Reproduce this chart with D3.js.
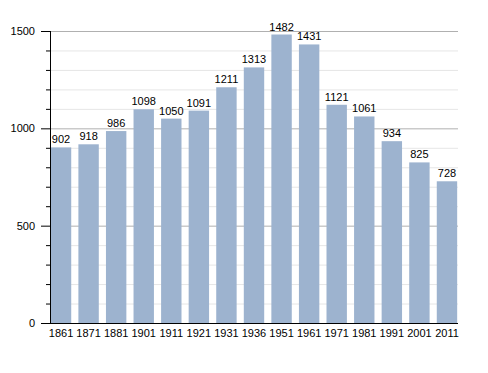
<!DOCTYPE html>
<html>
<head>
<meta charset="utf-8">
<script src="https://cdn.jsdelivr.net/npm/d3@7"></script>
<style>
  body { margin: 0; background: #fff; }
  text { font-family: "Liberation Sans", Arial, sans-serif; }
</style>
</head>
<body>
<svg id="chart" width="488" height="373"></svg>
<script>
// census years and population
const years = ["1861", "1871", "1881", "1901", "1911", "1921", "1931", "1936", "1951", "1961", "1971", "1981", "1991", "2001", "2011"];
const population = [902, 918, 986, 1098, 1050, 1091, 1211, 1313, 1482, 1431, 1121, 1061, 934, 825, 728];
const yTicks = [0, 500, 1000, 1500];

const margin = { top: 31, right: 30, bottom: 50, left: 50 };
const width = 488, height = 373;

const svg = d3.select("#chart");

const x = d3.scaleBand()
    .domain(years)
    .range([margin.left, width - margin.right])
    .paddingInner(0.26)
    .paddingOuter(0.03);

const y = d3.scaleLinear()
    .domain([0, 1500])
    .range([height - margin.bottom, margin.top]);

const minor = d3.range(100, 1501, 100).filter(v => v % 500 !== 0);

// minor grid lines every 100
svg.append("g")
    .selectAll("line")
    .data(minor)
    .join("line")
    .attr("x1", margin.left)
    .attr("x2", width - margin.right)
    .attr("y1", d => y(d) + 0.5)
    .attr("y2", d => y(d) + 0.5)
    .attr("stroke", "#e6e6e6");

// major grid lines
svg.append("g")
    .selectAll("line")
    .data(yTicks.slice(1))
    .join("line")
    .attr("x1", margin.left)
    .attr("x2", width - margin.right)
    .attr("y1", d => y(d) + 0.5)
    .attr("y2", d => y(d) + 0.5)
    .attr("stroke", "#b0b0b0");

// bars
svg.append("g")
    .selectAll("rect")
    .data(population)
    .join("rect")
    .attr("x", (d, i) => x(years[i]))
    .attr("y", d => y(d))
    .attr("width", x.bandwidth())
    .attr("height", d => y(0) - y(d))
    .attr("fill", "#9db3cf");

// value labels
svg.append("g")
    .selectAll("text")
    .data(population)
    .join("text")
    .attr("x", (d, i) => x(years[i]) + x.bandwidth() / 2)
    .attr("y", d => y(d) - 4)
    .attr("text-anchor", "middle")
    .attr("font-size", "11px")
    .attr("fill", "#000")
    .text(d => d);

// y axis
const yAxis = svg.append("g")
    .attr("transform", `translate(${margin.left},0)`)
    .call(d3.axisLeft(y).tickValues(yTicks).tickSize(9).tickPadding(6).tickFormat(d3.format("d")));
yAxis.select(".domain").remove();
yAxis.selectAll("text").attr("font-size", "11px").attr("font-family", "Liberation Sans, Arial, sans-serif");

// minor ticks on y axis
svg.append("g")
    .selectAll("line")
    .data(minor)
    .join("line")
    .attr("x1", margin.left - 4)
    .attr("x2", margin.left)
    .attr("y1", d => y(d) + 0.5)
    .attr("y2", d => y(d) + 0.5)
    .attr("stroke", "#000");

// axis lines
svg.append("line")
    .attr("x1", margin.left + 0.5).attr("x2", margin.left + 0.5)
    .attr("y1", margin.top).attr("y2", y(0))
    .attr("stroke", "#000");
svg.append("line")
    .attr("x1", margin.left).attr("x2", width - margin.right)
    .attr("y1", y(0) + 0.5).attr("y2", y(0) + 0.5)
    .attr("stroke", "#000");

// x labels
svg.append("g")
    .selectAll("text")
    .data(years)
    .join("text")
    .attr("x", d => x(d) + x.bandwidth() / 2)
    .attr("y", y(0) + 14)
    .attr("text-anchor", "middle")
    .attr("font-size", "11px")
    .attr("fill", "#000")
    .text(d => d);
</script>
</body>
</html>
